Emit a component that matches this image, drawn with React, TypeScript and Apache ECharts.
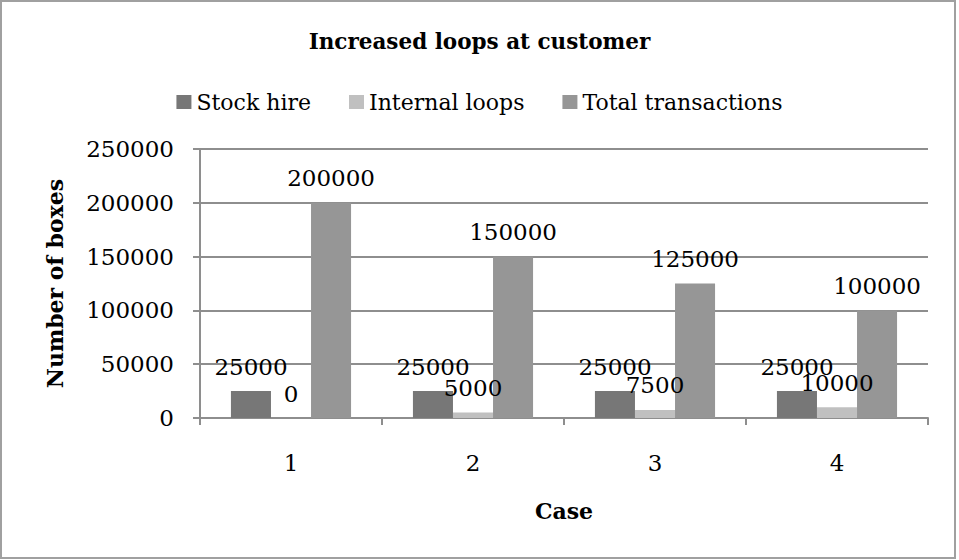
import React, { useEffect, useRef } from "react";
import * as echarts from "echarts";

const categories = ["1", "2", "3", "4"];
const stockHire = [25000, 25000, 25000, 25000];
const internalLoops = [0, 5000, 7500, 10000];
const totalTransactions = [200000, 150000, 125000, 100000];
const seriesNames = ["Stock hire", "Internal loops", "Total transactions"];
const seriesColors = ["#777777", "#c0c0c0", "#969696"];

const FONT = "DejaVu Serif";

export default function App() {
  const ref = useRef<HTMLDivElement>(null);
  useEffect(() => {
    if (!ref.current) return;
    const chart = echarts.init(ref.current, undefined, { renderer: "svg" });
    const label = {
      show: true,
      position: "top",
      distance: 13,
      color: "#000",
      fontFamily: FONT,
      fontSize: 23,
    };
    const data = [stockHire, internalLoops, totalTransactions];
    chart.setOption({
      animation: false,
      backgroundColor: "#fff",
      title: {
        text: "Increased loops at customer",
        left: "center",
        top: 25,
        textStyle: { fontFamily: FONT, fontWeight: "bold", fontSize: 21.5, color: "#000" },
      },
      legend: {
        top: 86,
        left: "center",
        itemWidth: 15,
        itemHeight: 14,
        itemGap: 38,
        icon: "rect",
        textStyle: { fontFamily: FONT, fontSize: 22, color: "#000" },
        data: seriesNames,
      },
      graphic: [
        {
          type: "rect",
          shape: { x: 1, y: 1, width: 954, height: 557 },
          style: { fill: "none", stroke: "#a0a0a0", lineWidth: 2 },
          silent: true,
        },
      ],
      grid: { left: 200, right: 31, top: 149, bottom: 142 },
      xAxis: {
        type: "category",
        data: categories,
        name: "Case",
        nameLocation: "middle",
        nameGap: 82,
        nameTextStyle: { fontFamily: FONT, fontWeight: "bold", fontSize: 22, color: "#000" },
        axisLine: { show: true, lineStyle: { color: "#8e8e8e", width: 2 } },
        axisTick: { show: true, length: 7, lineStyle: { color: "#8e8e8e", width: 2 } },
        axisLabel: { margin: 33, fontFamily: FONT, fontSize: 23, color: "#000" },
      },
      yAxis: {
        type: "value",
        min: 0,
        max: 250000,
        interval: 50000,
        name: "Number of boxes",
        nameLocation: "middle",
        nameRotate: 90,
        nameGap: 134,
        nameTextStyle: { fontFamily: FONT, fontWeight: "bold", fontSize: 22, color: "#000" },
        axisLine: { show: true, lineStyle: { color: "#8e8e8e", width: 2 } },
        axisTick: { show: true, length: 7, lineStyle: { color: "#8e8e8e", width: 2 } },
        splitLine: { show: true, lineStyle: { color: "#8e8e8e", width: 2 } },
        axisLabel: {
          margin: 26,
          fontFamily: FONT,
          fontSize: 23,
          color: "#000",
          formatter: (v: number) => String(v),
        },
      },
      series: seriesNames.map((name, i) => ({
        name,
        type: "bar",
        data: data[i],
        barGap: "0%",
        barCategoryGap: "34%",
        itemStyle: { color: seriesColors[i] },
        label,
      })),
    });
    return () => chart.dispose();
  }, []);
  return (
    <div
      ref={ref}
      style={{ position: "fixed", left: 0, top: 0, width: 959, height: 560 }}
    />
  );
}
